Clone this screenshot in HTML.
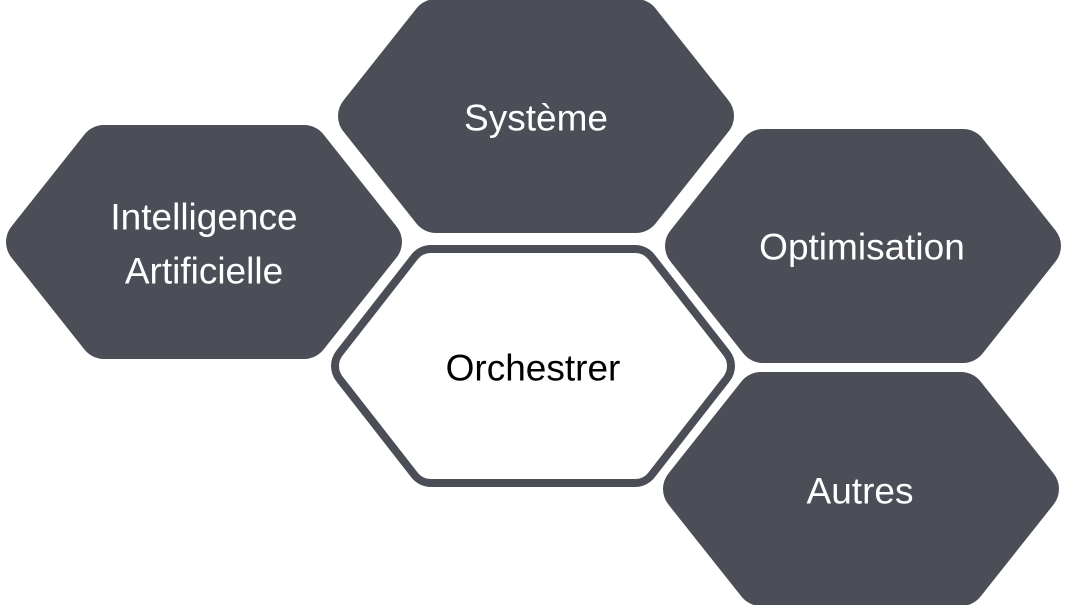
<!DOCTYPE html>
<html><head><meta charset="utf-8"><style>
html,body{margin:0;padding:0;background:#fff;width:1067px;height:605px;overflow:hidden}
text{font-family:"Liberation Sans",sans-serif;font-size:37px;text-anchor:middle;dominant-baseline:central}
</style></head><body>
<svg width="1067" height="605" viewBox="0 0 1067 605" xmlns="http://www.w3.org/2000/svg">
<defs>
<polygon id="h" points="-173,0 -100,-92 100,-92 173,0 100,92 -100,92"/>
<polygon id="hb" points="-177,0 -102,-96 102,-96 177,0 102,96 -102,96"/>
</defs>
<g fill="#4b4e57" stroke="#4b4e57" stroke-width="50" stroke-linejoin="round">
<use href="#h" transform="translate(536,116)"/>
<use href="#h" transform="translate(204,242)"/>
<use href="#h" transform="translate(863,246)"/>
<use href="#h" transform="translate(861,489)"/>
<use href="#hb" transform="translate(533,366)"/>
</g>
<use href="#hb" transform="translate(533,366)" fill="#fff" stroke="#fff" stroke-width="34" stroke-linejoin="round"/>
<g fill="#fff">
<text x="536" y="118">Système</text>
<text x="204" y="217">Intelligence</text>
<text x="204" y="271">Artificielle</text>
<text x="862" y="247">Optimisation</text>
<text x="860" y="491">Autres</text>
</g>
<text x="533" y="368" fill="#000">Orchestrer</text>
</svg>
</body></html>
